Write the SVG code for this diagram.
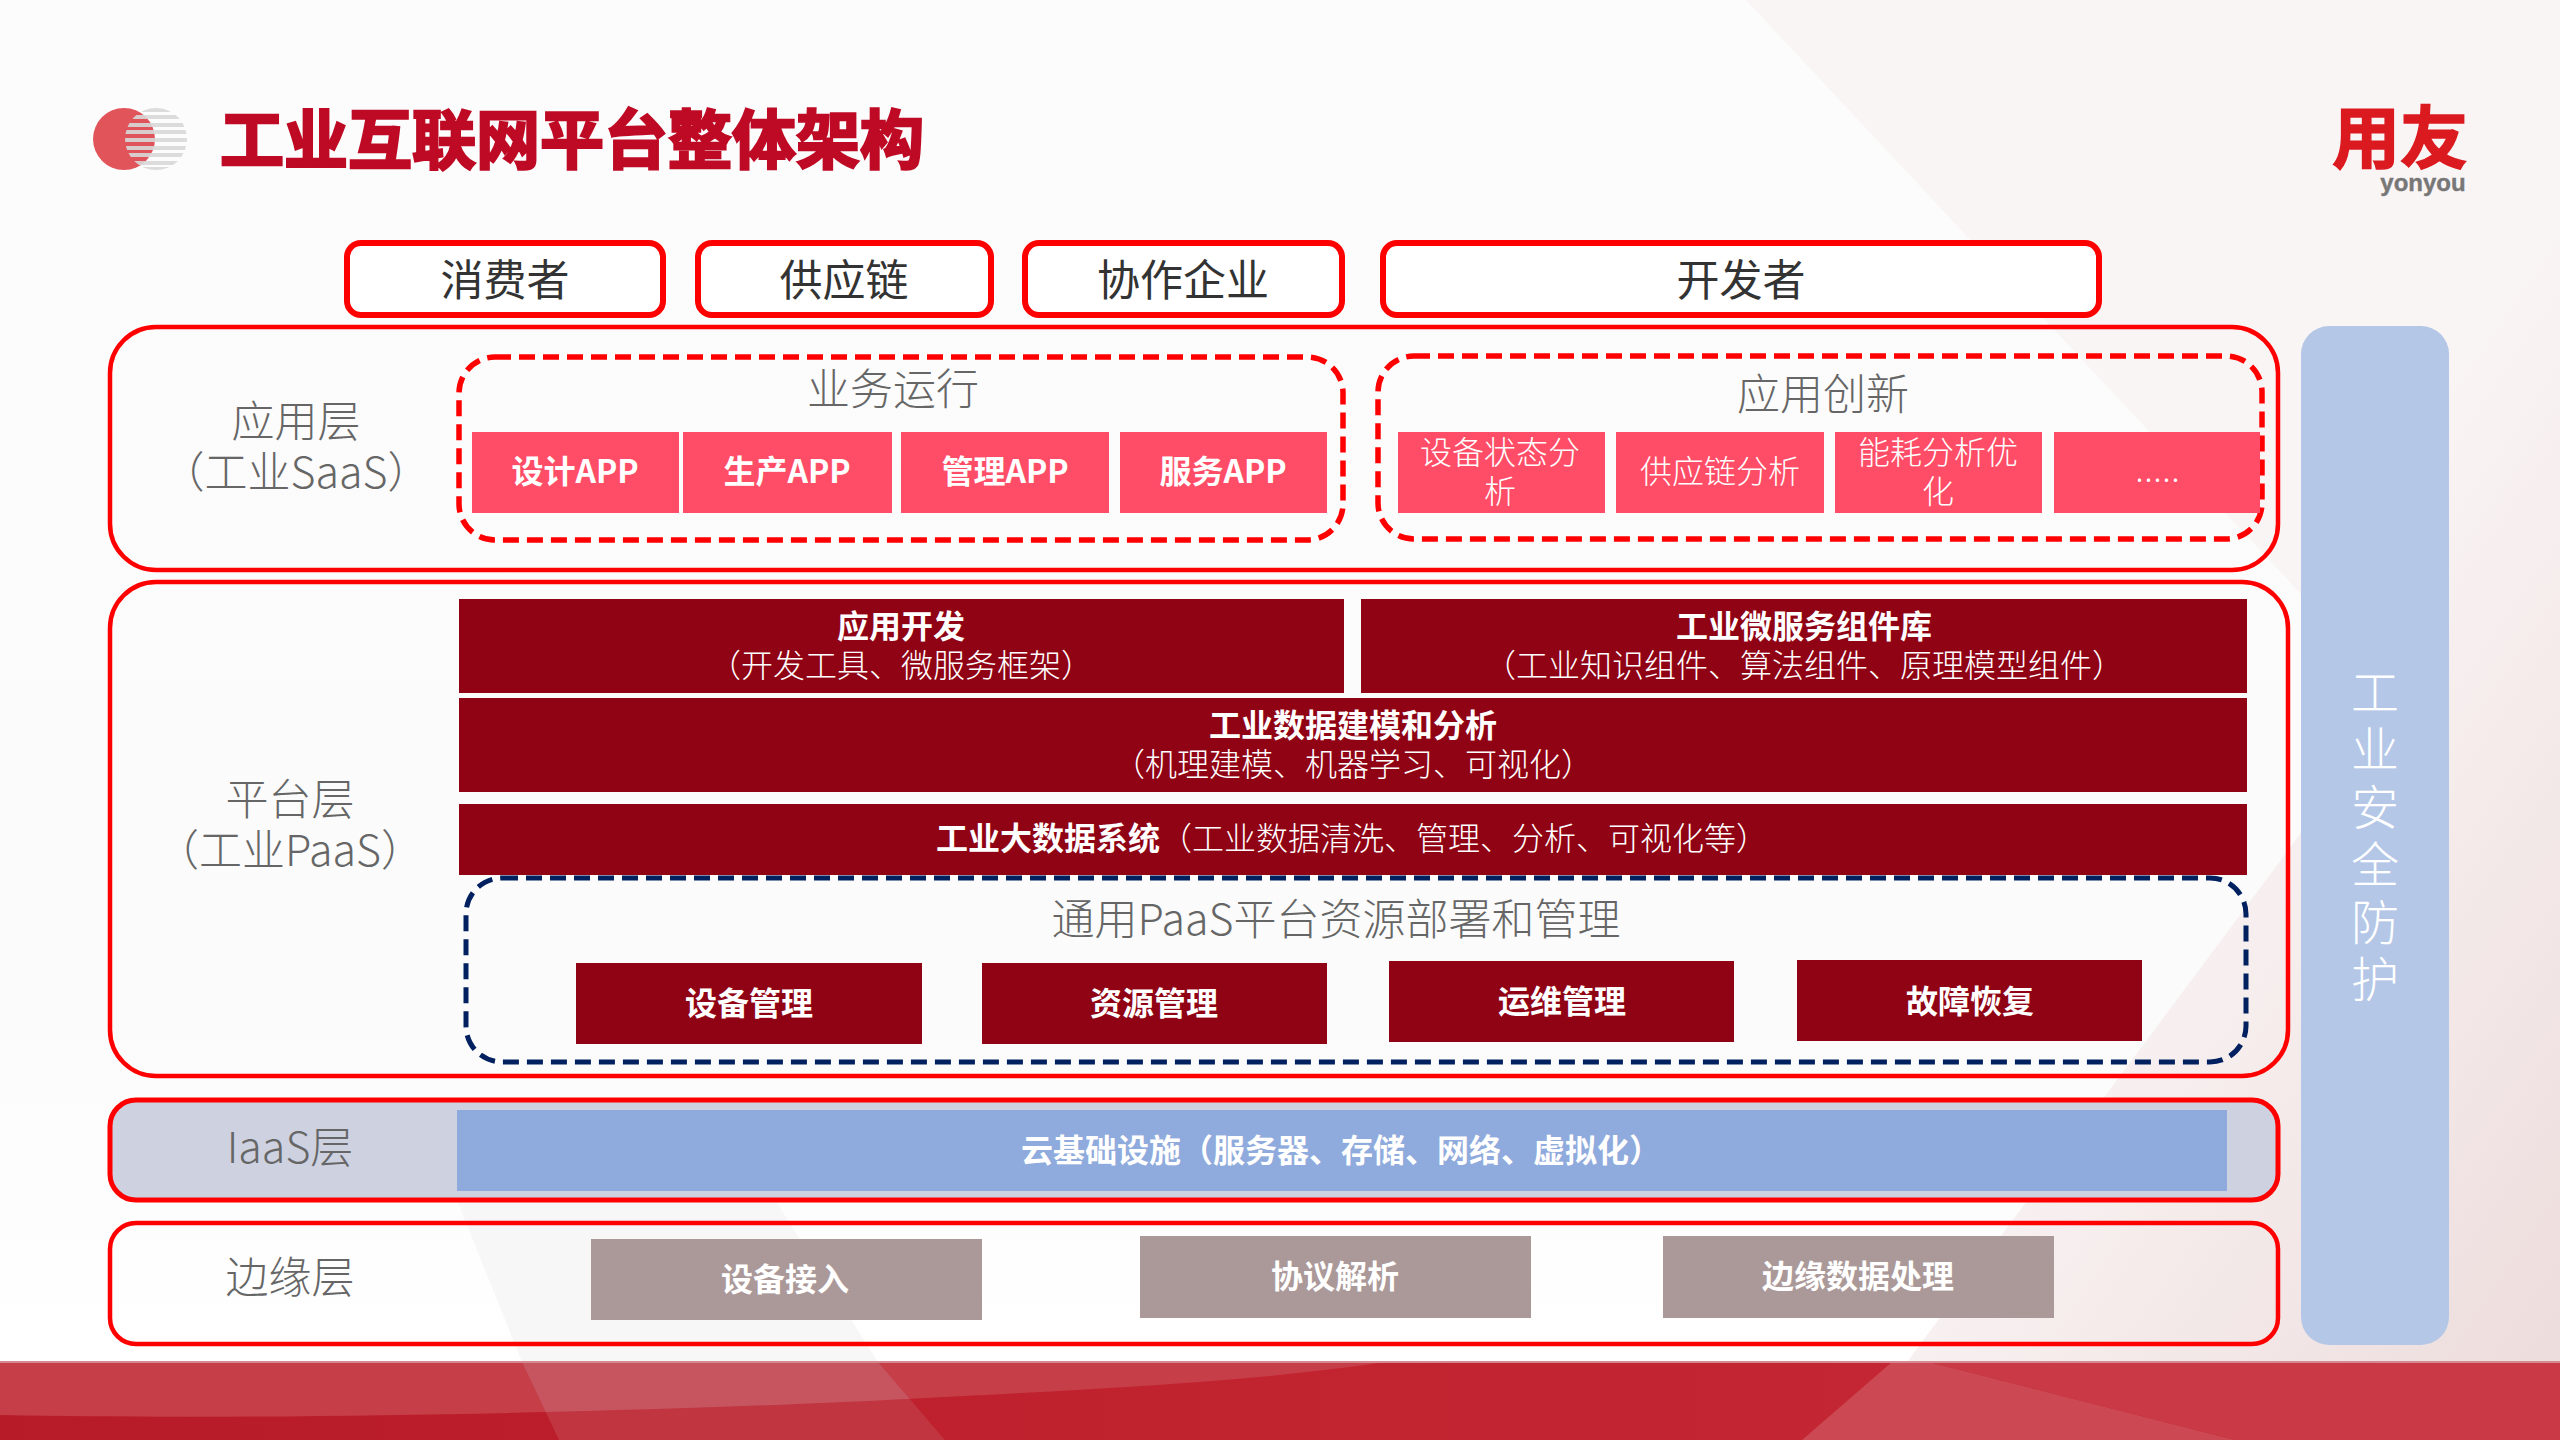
<svg xmlns="http://www.w3.org/2000/svg" width="2560" height="1440" viewBox="0 0 2560 1440">
<style>
text{font-family:"Noto Sans CJK SC","Noto Sans",sans-serif;text-anchor:middle}
.u{fill:#fff;stroke:#ff0000;stroke-width:6}
.n{fill:none;stroke:#ff0000;stroke-width:4.5}
.d{fill:none;stroke:#ff0000;stroke-width:5.500;stroke-dasharray:16 8}
.pk{fill:#ff4d67}.dk{fill:#900315}.gy{fill:#ab9999}
.t{fill:#333;font-size:43px}
.l{fill:#666;font-size:43px;font-weight:300}
.wb{fill:#fff;font-size:32px;font-weight:700}
.w{fill:#fff;font-size:32px;font-weight:300}
</style>
<defs>
<linearGradient id="bg" x1="0" y1="0" x2="0" y2="1"><stop offset="0" stop-color="#fcfcfc"/><stop offset="0.7" stop-color="#fbfbfb"/><stop offset="0.95" stop-color="#ffffff"/></linearGradient>
<linearGradient id="pinkg" gradientUnits="userSpaceOnUse" x1="2000" y1="1000" x2="2560" y2="1380"><stop offset="0" stop-color="#faf5f5"/><stop offset="1" stop-color="#eddcdc"/></linearGradient>
<linearGradient id="band" x1="0" y1="0" x2="1" y2="0"><stop offset="0" stop-color="#b71b27"/><stop offset="0.5" stop-color="#c1232f"/><stop offset="1" stop-color="#c62b37"/></linearGradient>
<clipPath id="cg"><circle cx="156" cy="139" r="31"/></clipPath>
<clipPath id="overlay"><path d="M522 1362H878L945 1440H559Z"/></clipPath>
</defs>
<g id="background">
<rect width="2560" height="1440" fill="url(#bg)"/>
<path d="M457 1200H775L878 1362H522Z" fill="#f7f7f7"/>
<path d="M1746 0L2400 700L1907 1362H2560V0Z" fill="url(#pinkg)"/>
<rect y="1362" width="2560" height="78" fill="url(#band)"/>
<path d="M0 1362H1386C1250 1382 1100 1389 906 1399C700 1410 300 1421 0 1415Z" fill="#c63e48"/>
<path d="M522 1362H878L945 1440H559Z" fill="#c03540"/>
<path d="M0 1362H1386C1250 1382 1100 1389 906 1399C700 1410 300 1421 0 1415Z" fill="#c65560" clip-path="url(#overlay)"/>
<path d="M1892 1362H1929L2235 1440H1802Z" fill="#cc4852"/>
<path d="M1929 1362H2560V1440H2235Z" fill="#c93a46"/>
<rect y="1361" width="2560" height="2" fill="#d48a90"/>
</g>
<g id="title">
<g id="logo-mark">
<circle cx="124" cy="139" r="31" fill="#e0545a"/>
<g clip-path="url(#cg)" fill="#d9d9d9" opacity="0.9">
<rect x="120" y="108" width="80" height="4"/><rect x="120" y="115" width="80" height="4"/><rect x="120" y="123" width="80" height="4"/><rect x="120" y="130" width="80" height="4"/><rect x="120" y="138" width="80" height="4"/><rect x="120" y="146" width="80" height="4"/><rect x="120" y="153" width="80" height="4"/><rect x="120" y="161" width="80" height="4"/><rect x="120" y="167" width="80" height="4"/>
</g>
</g>
<text x="572" y="163" font-size="64" font-weight="700" fill="#be0a24" stroke="#be0a24" stroke-width="2.500">工业互联网平台整体架构</text>
</g>
<g id="brand">
<text x="2400" y="163" font-size="68" font-weight="700" fill="#db1a20" stroke="#db1a20" stroke-width="1.500">用友<tspan x="2423" y="191" font-size="24" fill="#777" stroke="#777" stroke-width="0.400" style="font-family:'Liberation Sans',sans-serif">yonyou</tspan></text>
</g>
<g id="users">
<g id="u1"><rect class="u" x="347" y="243" width="316" height="72" rx="14"/><text class="t" x="505" y="296">消费者</text></g>
<g id="u2"><rect class="u" x="698" y="243" width="293" height="72" rx="14"/><text class="t" x="844" y="296">供应链</text></g>
<g id="u3"><rect class="u" x="1025" y="243" width="317" height="72" rx="14"/><text class="t" x="1183" y="296">协作企业</text></g>
<g id="u4"><rect class="u" x="1383" y="243" width="716" height="72" rx="14"/><text class="t" x="1741" y="296">开发者</text></g>
</g>
<g id="saas">
<rect class="n" x="110" y="327" width="2168" height="243" rx="46"/>
<text class="l" x="296" y="437">应用层<tspan x="296" y="488">（工业SaaS）</tspan></text>
<g id="biz">
<rect class="d" x="459" y="357" width="884" height="183" rx="36"/>
<text class="l" x="893" y="405">业务运行</text>
<g id="b1"><rect class="pk" x="472" y="432" width="207" height="81"/><text class="wb" x="575" y="483">设计APP</text></g>
<g id="b2"><rect class="pk" x="683" y="432" width="209" height="81"/><text class="wb" x="787" y="483">生产APP</text></g>
<g id="b3"><rect class="pk" x="901" y="432" width="208" height="81"/><text class="wb" x="1005" y="483">管理APP</text></g>
<g id="b4"><rect class="pk" x="1120" y="432" width="207" height="81"/><text class="wb" x="1223" y="483">服务APP</text></g>
</g>
<g id="inno">
<rect class="d" x="1378" y="356" width="884" height="183" rx="36"/>
<text class="l" x="1823" y="410">应用创新</text>
<g id="a1"><rect class="pk" x="1398" y="432" width="207" height="81"/><text class="w" x="1500" y="464">设备状态分<tspan x="1500" y="503">析</tspan></text></g>
<g id="a2"><rect class="pk" x="1616" y="432" width="208" height="81"/><text class="w" x="1720" y="483">供应链分析</text></g>
<g id="a3"><rect class="pk" x="1835" y="432" width="207" height="81"/><text class="w" x="1938" y="464">能耗分析优<tspan x="1938" y="503">化</tspan></text></g>
<g id="a4"><rect class="pk" x="2054" y="432" width="206" height="81"/><text class="w" x="2158" y="482" letter-spacing="1">.....</text></g>
</g>
</g>
<g id="paas">
<rect class="n" x="110" y="582" width="2178" height="494" rx="46"/>
<text class="l" x="290" y="815">平台层<tspan x="290" y="866">（工业PaaS）</tspan></text>
<g id="p1"><rect class="dk" x="459" y="599" width="885" height="94"/><text class="wb" x="901" y="638">应用开发<tspan class="w" x="901" y="677">（开发工具、微服务框架）</tspan></text></g>
<g id="p2"><rect class="dk" x="1361" y="599" width="886" height="94"/><text class="wb" x="1804" y="638">工业微服务组件库<tspan class="w" x="1804" y="677">（工业知识组件、算法组件、原理模型组件）</tspan></text></g>
<g id="p3"><rect class="dk" x="459" y="698" width="1788" height="94"/><text class="wb" x="1353" y="737">工业数据建模和分析<tspan class="w" x="1353" y="776">（机理建模、机器学习、可视化）</tspan></text></g>
<g id="p4"><rect class="dk" x="459" y="804" width="1788" height="71"/><text x="1352" y="850" class="w"><tspan font-weight="700">工业大数据系统</tspan>（工业数据清洗、管理、分析、可视化等）</text></g>
<g id="general">
<rect x="466" y="878" width="1780" height="184" rx="36" fill="none" stroke="#002060" stroke-width="5" stroke-dasharray="16 8"/>
<text class="l" x="1336" y="935">通用PaaS平台资源部署和管理</text>
<g id="g1"><rect class="dk" x="576" y="963" width="346" height="81"/><text class="wb" x="749" y="1015">设备管理</text></g>
<g id="g2"><rect class="dk" x="982" y="963" width="345" height="81"/><text class="wb" x="1154" y="1015">资源管理</text></g>
<g id="g3"><rect class="dk" x="1389" y="961" width="345" height="81"/><text class="wb" x="1562" y="1013">运维管理</text></g>
<g id="g4"><rect class="dk" x="1797" y="960" width="345" height="81"/><text class="wb" x="1970" y="1013">故障恢复</text></g>
</g>
</g>
<g id="iaas">
<rect x="110" y="1100" width="2168" height="100" rx="26" fill="#cdd1e0" stroke="#ff0000" stroke-width="5"/>
<text class="l" x="290" y="1163">IaaS层</text>
<g id="i1"><rect x="457" y="1110" width="1770" height="81" fill="#8faadc"/><text class="wb" x="1341" y="1162">云基础设施（服务器、存储、网络、虚拟化）</text></g>
</g>
<g id="edge">
<rect class="n" x="110" y="1223" width="2168" height="121" rx="26"/>
<text class="l" x="290" y="1293">边缘层</text>
<g id="e1"><rect class="gy" x="591" y="1239" width="391" height="81"/><text class="wb" x="785" y="1291">设备接入</text></g>
<g id="e2"><rect class="gy" x="1140" y="1236" width="391" height="82"/><text class="wb" x="1335" y="1288">协议解析</text></g>
<g id="e3"><rect class="gy" x="1663" y="1236" width="391" height="82"/><text class="wb" x="1858" y="1288">边缘数据处理</text></g>
</g>
<g id="security">
<rect x="2301" y="326" width="148" height="1019" rx="28" fill="#b4c7e7"/>
<text fill="#fff" font-size="48" font-weight="300" x="2375" y="710">工<tspan x="2375" y="767">业</tspan><tspan x="2375" y="825">安</tspan><tspan x="2375" y="882">全</tspan><tspan x="2375" y="940">防</tspan><tspan x="2375" y="997">护</tspan></text>
</g>
</svg>
